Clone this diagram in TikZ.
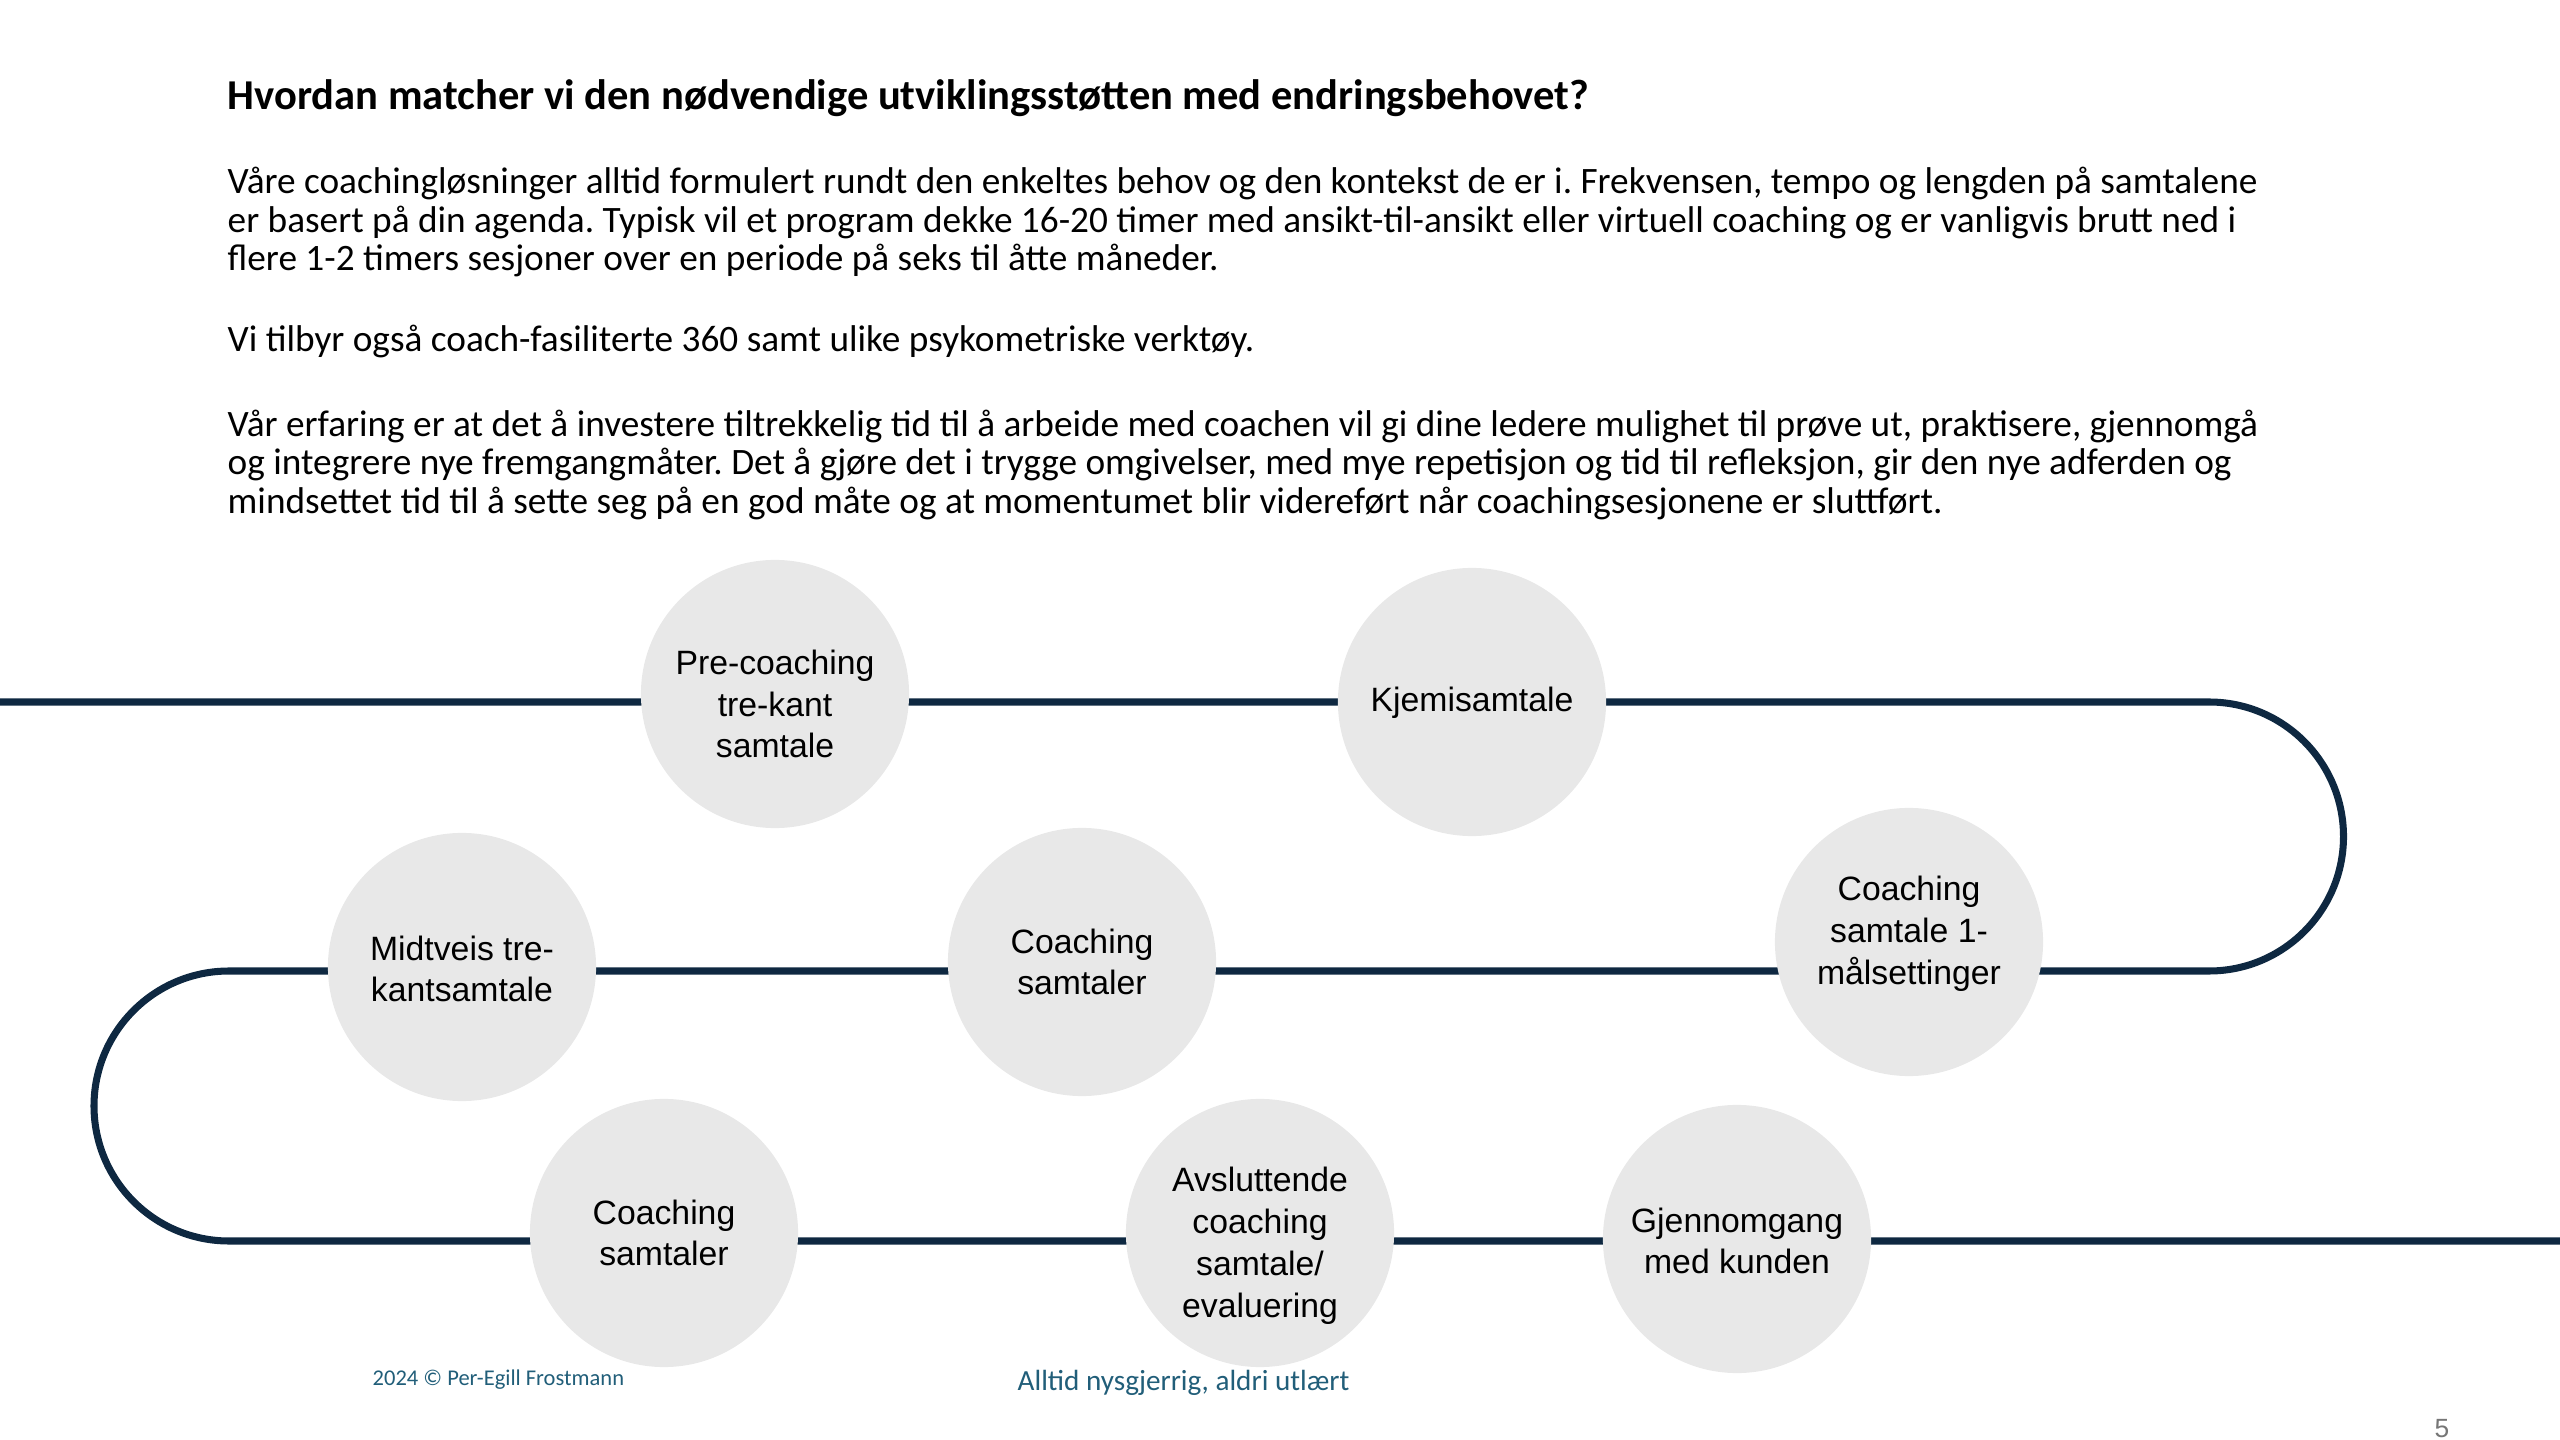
\documentclass[tikz,border=0pt]{standalone}
\usepackage{fontspec}
\setmainfont{Carlito}
\newfontfamily\circfont{Liberation Sans}
\newfontfamily\pagefont{Liberation Sans}
\usetikzlibrary{positioning}
\definecolor{trackblue}{HTML}{0E2841}
\definecolor{stepgray}{HTML}{E8E8E8}
\definecolor{footblue}{HTML}{215E79}
\definecolor{pagegray}{HTML}{767676}
\frenchspacing

\tikzset{
  stepnode/.style={circle, fill=stepgray, minimum size=2.68cm, inner sep=0pt},
  steptext/.style={align=center, inner sep=0pt, font=\circfont\fontsize{9.6}{11.9}\selectfont},
  track/.style={draw=trackblue, line width=2pt},
  para/.style={anchor=west, align=left, inner xsep=0pt, font=\fontsize{10.6}{11.06}\selectfont},
}

\begin{document}
\begin{tikzpicture}[x=0.01cm,y=-0.01cm]
\useasboundingbox (0,0) rectangle (2560,1440);

% heading and text
\node[anchor=west, inner xsep=0pt, font=\bfseries\fontsize{12.1}{14}\selectfont] (title) at (227,98)
  {Hvordan matcher vi den nødvendige utviklingsstøtten med endringsbehovet?};
\node[para] (p1) at (227,222)
  {Våre coachingløsninger alltid formulert rundt den enkeltes behov og den kontekst de er i. Frekvensen, tempo og lengden på samtalene\\
   er basert på din agenda. Typisk vil et program dekke 16-20 timer med ansikt-til-ansikt eller virtuell coaching og er vanligvis brutt ned i\\
   flere 1-2 timers sesjoner over en periode på seks til åtte måneder.};
\node[para] (p2) at (227,342)
  {Vi tilbyr også coach-fasiliterte 360 samt ulike psykometriske verktøy.};
\node[para] (p3) at (227,465)
  {Vår erfaring er at det å investere tiltrekkelig tid til å arbeide med coachen vil gi dine ledere mulighet til prøve ut, praktisere, gjennomgå\\
   og integrere nye fremgangmåter. Det å gjøre det i trygge omgivelser, med mye repetisjon og tid til refleksjon, gir den nye adferden og\\
   mindsettet tid til å sette seg på en god måte og at momentumet blir videreført når coachingsesjonene er sluttført.};

% track
\coordinate (in) at (0,702);
\coordinate (turnR) at (2209,702);
\coordinate (turnL) at (229,971);
\coordinate (out) at (2560,1241);
\draw[track] (in) -- (turnR) arc[start angle=-90, end angle=90, radius=134.5]
  -- (turnL) arc[start angle=270, end angle=90, radius=135] -- (out);

% steps
\node[stepnode, label={[steptext, yshift=-0.10cm]center:{Pre-coaching\\tre-kant\\samtale}}] (pre) at (775,694) {};
\node[stepnode, label={[steptext, yshift=-0.01cm]center:{Kjemisamtale}}] (kjemi) at (1472,702) {};
\node[stepnode, label={[steptext, yshift=0.08cm]center:{Coaching\\samtale 1-\\målsettinger}}] (maal) at (1909,942) {};
\node[stepnode, label={[steptext]center:{Coaching\\samtaler}}] (coachA) at (1082,962) {};
\node[stepnode, label={[steptext, yshift=-0.02cm]center:{Midtveis tre-\\kantsamtale}}] (midt) at (462,967) {};
\node[stepnode, label={[steptext]center:{Coaching\\samtaler}}] (coachB) at (664,1233) {};
\node[stepnode, label={[steptext, yshift=-0.13cm]center:{Avsluttende\\coaching\\samtale/\\evaluering}}] (avsl) at (1260,1233) {};
\node[stepnode, label={[steptext, yshift=-0.02cm]center:{Gjennomgang\\med kunden}}] (gjenn) at (1737,1239) {};

% footer
\node[anchor=west, inner xsep=0pt, text=footblue, font=\fontsize{6.4}{7}\selectfont] (copy) at (372,1380) {2024 © Per-Egill Frostmann};
\node[anchor=west, inner xsep=0pt, text=footblue, font=\fontsize{8.3}{9}\selectfont] (motto) at (1017,1383) {Alltid nysgjerrig, aldri utlært};
\node[text=pagegray, font=\pagefont\fontsize{7.5}{9}\selectfont] (page) at (2442,1429) {5};
\end{tikzpicture}
\end{document}
